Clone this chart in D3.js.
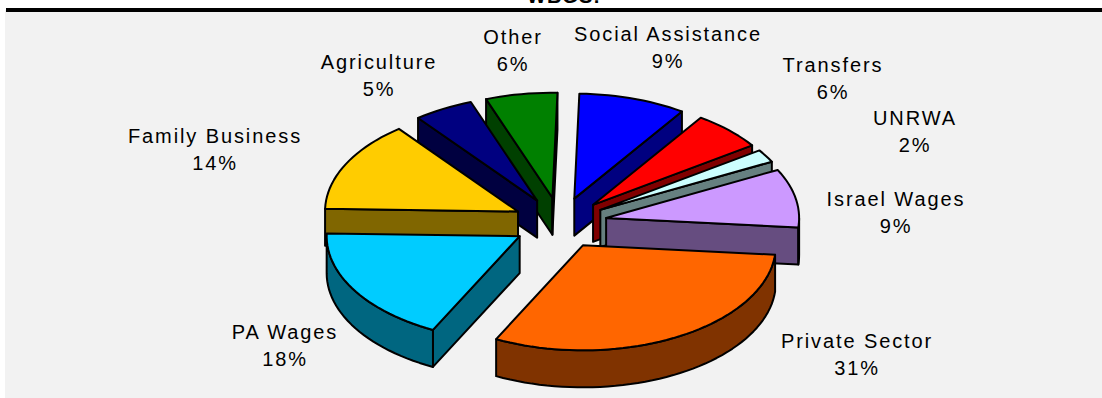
<!DOCTYPE html>
<html>
<head>
<meta charset="utf-8">
<script src="https://cdnjs.cloudflare.com/ajax/libs/d3/7.8.5/d3.min.js"></script>
<style>
html, body { margin: 0; padding: 0; background: #fff; }
svg { display: block; }
text { font-family: "Liberation Sans", Arial, sans-serif; fill: #000; }
</style>
</head>
<body>
<svg id="chart" width="1102" height="398"></svg>
<script>
// Income sources, percent of total
const sources = ["Social Assistance", "Transfers", "UNRWA", "Israel Wages", "Private Sector", "PA Wages", "Family Business", "Agriculture", "Other"];
const shares = [9, 6, 2, 9, 31, 18, 14, 5, 6];
const sliceColors = ["#0000ff", "#ff0000", "#ccffff", "#cc99ff", "#ff6600", "#00ccff", "#ffcc00", "#000080", "#008000"];
const chartTitle = "WBGS:";

const width = 1102, height = 398;
const svg = d3.select("#chart");

// Tilted pie geometry
const cx = 560, cy = 223, rx = 193, ry = 105, depth = 37, explode = 47;
const startTurn = 1.5 * Math.PI / 180;

// Hand-placed label anchors, in slice order
const labelSpots = [[668, 41], [833, 72], [915, 125], [896, 206], [857, 348], [285, 339], [215, 143], [379, 69], [513, 44]];

svg.append("rect").attr("x", 5).attr("y", 10).attr("width", width - 5).attr("height", height - 10).attr("fill", "#f2f2f2");
svg.append("text").attr("x", 564).attr("y", 3).attr("text-anchor", "middle")
  .attr("font-size", 20).attr("letter-spacing", 1).attr("font-weight", "bold").text(chartTitle);
svg.append("rect").attr("x", 6).attr("y", 8).attr("width", width - 6).attr("height", 4).attr("fill", "#000");

const pieLayout = d3.pie().sort(null).startAngle(startTurn).endAngle(startTurn + 2 * Math.PI);
const arcs = pieLayout(shares).map((d, i) => {
  const mid = (d.startAngle + d.endAngle) / 2;
  return {
    ...d, i, mid,
    ox: cx + explode * Math.sin(mid),
    oy: cy - explode * (ry / rx) * Math.cos(mid)
  };
});

const rim = (d, a) => [d.ox + rx * Math.sin(a), d.oy - ry * Math.cos(a)];
const drop = p => [p[0], p[1] + depth];
const line = d3.line();

// Sample the outer rim between two angles
function rimPoints(d, a0, a1) {
  const steps = Math.max(2, Math.ceil((a1 - a0) / 0.04));
  return d3.range(steps + 1).map(k => rim(d, a0 + (a1 - a0) * k / steps));
}

// Paint from the far slices to the near ones
const order = arcs.slice().sort((a, b) => (a.oy - ry * 0.55 * Math.cos(a.mid)) - (b.oy - ry * 0.55 * Math.cos(b.mid)));
const TAU = 2 * Math.PI;
const normAngle = a => ((a % TAU) + TAU) % TAU;

const plot = svg.append("g").attr("stroke", "#000").attr("stroke-width", 2).attr("stroke-linejoin", "round");

order.forEach(d => {
  const base = d3.rgb(sliceColors[d.i]);
  const shade = d3.rgb(base.r * 0.5, base.g * 0.5, base.b * 0.5).formatHex();
  const apex = [d.ox, d.oy];
  const g = plot.append("g");

  // Radial walls, drawn only when they turn toward the viewer
  if (normAngle(d.startAngle) > Math.PI) {
    const p = rim(d, d.startAngle);
    g.append("path").attr("d", line([apex, p, drop(p), drop(apex)]) + "Z").attr("fill", shade);
  }
  if (normAngle(d.endAngle) < Math.PI) {
    const p = rim(d, d.endAngle);
    g.append("path").attr("d", line([apex, p, drop(p), drop(apex)]) + "Z").attr("fill", shade);
  }

  // Outer wall, only across the near half of the ellipse
  const a0 = Math.max(d.startAngle, Math.PI / 2), a1 = Math.min(d.endAngle, 3 * Math.PI / 2);
  if (a1 > a0) {
    const topEdge = rimPoints(d, a0, a1);
    g.append("path").attr("d", line(topEdge.concat(topEdge.map(drop).reverse())) + "Z").attr("fill", shade);
  }

  // Top face
  g.append("path").attr("d", line([apex].concat(rimPoints(d, d.startAngle, d.endAngle))) + "Z").attr("fill", base.formatHex());
});

// Two-line labels around the pie
const labels = svg.append("g").attr("font-size", 20).attr("letter-spacing", 1.9).attr("text-anchor", "middle");
arcs.forEach(d => {
  const [x, y] = labelSpots[d.i];
  const t = labels.append("text").attr("x", x).attr("y", y);
  t.append("tspan").attr("x", x).attr("dy", 0).text(sources[d.i]);
  t.append("tspan").attr("x", x).attr("dy", 27).text(shares[d.i] + "%");
});
</script>
</body>
</html>
